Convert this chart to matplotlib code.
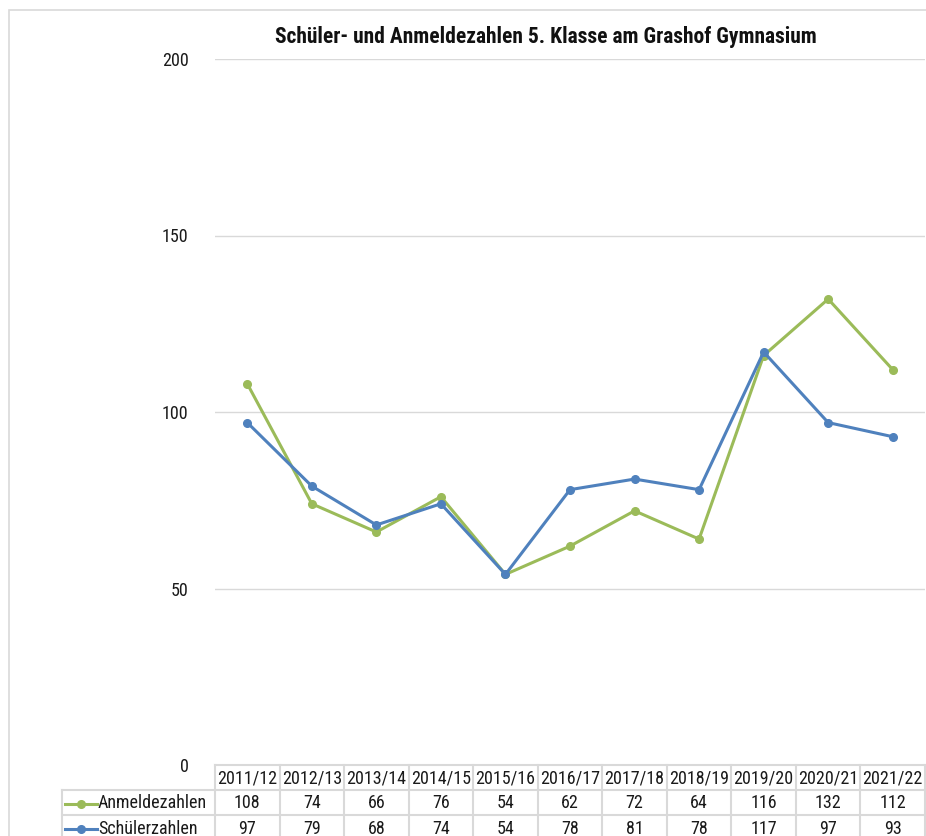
import numpy as np
import matplotlib.pyplot as plt
from matplotlib.patches import Rectangle
from matplotlib.lines import Line2D

plt.rcParams["font.family"] = ["Roboto Condensed", "DejaVu Sans"]

years = ["2011/12", "2012/13", "2013/14", "2014/15", "2015/16", "2016/17",
         "2017/18", "2018/19", "2019/20", "2020/21", "2021/22"]
anmeldezahlen = [108, 74, 66, 76, 54, 62, 72, 64, 116, 132, 112]
schuelerzahlen = [97, 79, 68, 74, 54, 78, 81, 78, 117, 97, 93]
series_names = ["Anmeldezahlen", "Schülerzahlen"]
series_colors = ["#9BBB59", "#4F81BD"]
y_ticks = [0, 50, 100, 150, 200]

W, H = 926, 836
fig = plt.figure(figsize=(W / 100, H / 100), dpi=100)

# pixel helpers (origin top-left)
def fx(px):
    return px / W

def fy(py):
    return 1 - py / H

grid_c = "#d9d9d9"
txt_c = "#1a1a1a"
fs = 13
left, right, top, bottom = 215, 925, 59, 765

# outer chart border
fig.add_artist(Rectangle((fx(9), fy(H + 5)), fx(W + 20), fy(10) - fy(H + 5),
                         transform=fig.transFigure, fill=False,
                         edgecolor=grid_c, lw=1.2))

ax = fig.add_axes([fx(left), fy(bottom), fx(right) - fx(left), fy(top) - fy(bottom)])
x = np.arange(len(years))
for vals, c in zip([anmeldezahlen, schuelerzahlen], series_colors):
    ax.plot(x, vals, color=c, lw=2.2, marker="o", ms=5.5, zorder=3)
ax.set_xlim(-0.5, len(years) - 0.5)
ax.set_ylim(0, 200)
ax.set_yticks(y_ticks)
ax.set_yticklabels([str(t) for t in y_ticks], fontsize=fs, color=txt_c)
ax.tick_params(axis="y", length=0, pad=19)
ax.set_xticks([])
for t in y_ticks[1:]:
    ax.axhline(t, color=grid_c, lw=1, zorder=1)
for s in ax.spines.values():
    s.set_visible(False)

fig.text(fx(546), fy(37), "Schüler- und Anmeldezahlen 5. Klasse am Grashof Gymnasium",
         ha="center", va="center", fontsize=15.5, fontweight="bold", color="#111111")

# data table below the plot
col_w = (right - left) / len(years)
row_h = 25
leg_left = 62
rows_y = [bottom, bottom + row_h, bottom + 2 * row_h, bottom + 3 * row_h]
tl = dict(color=grid_c, lw=1.5, transform=fig.transFigure)
fig.add_artist(Line2D([fx(left), fx(right)], [fy(rows_y[0])] * 2, **tl))
for ry in rows_y[1:]:
    fig.add_artist(Line2D([fx(leg_left), fx(right)], [fy(ry)] * 2, **tl))
for k in range(len(years) + 1):
    xx = left + k * col_w
    fig.add_artist(Line2D([fx(xx)] * 2, [fy(rows_y[0]), fy(H + 10)], **tl))
fig.add_artist(Line2D([fx(leg_left)] * 2, [fy(rows_y[1]), fy(H + 10)], **tl))

for k, yr in enumerate(years):
    fig.text(fx(left + (k + 0.5) * col_w), fy(rows_y[0] + row_h / 2 + 1), yr,
             ha="center", va="center", fontsize=fs, color=txt_c)

for r, (name, vals, c) in enumerate(zip(series_names, [anmeldezahlen, schuelerzahlen],
                                        series_colors)):
    cy = rows_y[r + 1] + row_h / 2 + 1
    fig.add_artist(Line2D([fx(65), fx(97)], [fy(cy)] * 2, color=c, lw=2.2,
                          transform=fig.transFigure))
    fig.add_artist(Line2D([fx(81)], [fy(cy)], color=c, marker="o", ms=5.5,
                          transform=fig.transFigure))
    fig.text(fx(98), fy(cy), name, ha="left", va="center", fontsize=fs, color=txt_c)
    for k, v in enumerate(vals):
        fig.text(fx(left + (k + 0.5) * col_w), fy(cy), str(v),
                 ha="center", va="center", fontsize=fs, color=txt_c)

fig.savefig("out.png", dpi=100)
